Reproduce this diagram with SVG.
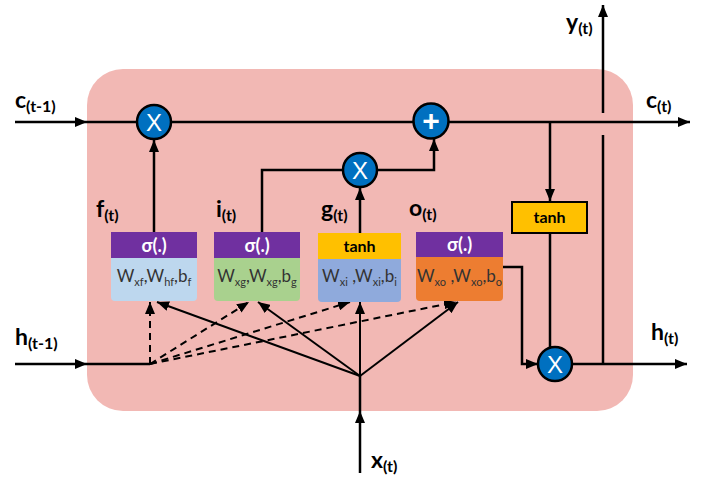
<svg xmlns="http://www.w3.org/2000/svg" width="711" height="480" viewBox="0 0 711 480">
<defs>
<marker id="ah" viewBox="0 0 12 10" refX="12" refY="5" markerWidth="12" markerHeight="10" markerUnits="userSpaceOnUse" orient="auto"><path d="M0,0 L12,5 L0,10 Z" fill="#000"/></marker>
<style>
.ln{stroke:#000;stroke-width:2.5;fill:none}
.dl{stroke:#000;stroke-width:2;fill:none;stroke-dasharray:7,5}
.sl{stroke:#000;stroke-width:2;fill:none}
.lbl{font-family:Lato,"Open Sans",sans-serif;font-weight:bold;font-size:23px;fill:#000}
.sub{font-size:16px}
.op{fill:#0070C0;stroke:#000;stroke-width:2.5}
.opt{font-family:"Liberation Sans",Arial,sans-serif;font-size:24px;fill:#fff;text-anchor:middle}
.hd{font-family:Lato,"Open Sans",sans-serif;font-weight:bold;font-size:18px;text-anchor:middle}
.bd{font-family:Lato,"Open Sans",sans-serif;font-size:17px;fill:#333;text-anchor:middle}
.bs{font-size:11px}
</style>
</defs>
<rect x="87" y="69" width="546" height="342" rx="36" ry="36" fill="#F2B8B4"/>
<g id="connectors">
<path class="ln" d="M15,122 H87" marker-end="url(#ah)"/>
<path class="ln" d="M87,122 H137"/>
<path class="ln" d="M171,122 H414"/>
<path class="ln" d="M448,122 H690" marker-end="url(#ah)"/>
<path class="ln" d="M603,113 V5" marker-end="url(#ah)"/>
<path class="ln" d="M603,135 V364"/>
<path class="ln" d="M550,122 V201" marker-end="url(#ah)"/>
<path class="ln" d="M550,233 V348"/>
<path class="ln" d="M503,267 H522 V364 H538" marker-end="url(#ah)"/>
<path class="ln" d="M572,364 H687" marker-end="url(#ah)"/>
<path class="ln" d="M154,232 V140" marker-end="url(#ah)"/>
<path class="ln" d="M262,232 V170 H343"/>
<path class="ln" d="M377,170 H434 V139" marker-end="url(#ah)"/>
<path class="ln" d="M360,233 V188" marker-end="url(#ah)"/>
<path class="ln" d="M15,364 H87" marker-end="url(#ah)"/>
<path class="ln" d="M87,364 H150"/>
<path class="dl" d="M150,364 V302" marker-end="url(#ah)"/>
<path class="dl" d="M150,364 L249,302" marker-end="url(#ah)"/>
<path class="dl" d="M150,364 L350,302" marker-end="url(#ah)"/>
<path class="dl" d="M150,364 L456,302" marker-end="url(#ah)"/>
<path class="ln" d="M360,473 V411" marker-end="url(#ah)"/>
<path class="ln" d="M360,411 V376"/>
<path class="sl" d="M360,376 L157,302" marker-end="url(#ah)"/>
<path class="sl" d="M360,376 L258,302" marker-end="url(#ah)"/>
<path class="sl" d="M360,376 V302" marker-end="url(#ah)"/>
<path class="sl" d="M360,376 L458,302" marker-end="url(#ah)"/>
</g>
<g id="mul_f"><circle class="op" cx="154" cy="122" r="17"/><text class="opt" x="154" y="131">X</text></g>
<g id="add_c"><circle class="op" cx="431" cy="121" r="17.5"/><text class="opt" x="431" y="131" style="font-weight:bold;font-size:30px">+</text></g>
<g id="mul_i"><circle class="op" cx="360" cy="170" r="17"/><text class="opt" x="360" y="179">X</text></g>
<g id="mul_o"><circle class="op" cx="555" cy="364" r="17"/><text class="opt" x="555" y="373">X</text></g>
<g id="tanh_c"><rect x="512" y="202" width="75" height="31" fill="#FFC000" stroke="#000" stroke-width="2"/><text class="hd" x="549.5" y="223" style="font-size:16px">tanh</text></g>
<g id="gate_f">
<path d="M111,258 H197 V297 Q197,301 193,301 H115 Q111,301 111,297 Z" fill="#BDD7EE"/>
<rect x="111" y="232" width="86" height="26" fill="#7030A0"/>
<text class="hd" x="154" y="252" fill="#fff">σ(.)</text>
<text class="bd" x="154" y="282">W<tspan class="bs" dy="4">xf</tspan><tspan dy="-4">,W</tspan><tspan class="bs" dy="4">hf</tspan><tspan dy="-4">,b</tspan><tspan class="bs" dy="4">f</tspan></text>
</g>
<g id="gate_i">
<path d="M214,258 H300 V297 Q300,301 296,301 H218 Q214,301 214,297 Z" fill="#A9D18E"/>
<rect x="214" y="232" width="86" height="26" fill="#7030A0"/>
<text class="hd" x="257" y="252" fill="#fff">σ(.)</text>
<text class="bd" x="257" y="282">W<tspan class="bs" dy="4">xg</tspan><tspan dy="-4">,W</tspan><tspan class="bs" dy="4">xg</tspan><tspan dy="-4">,b</tspan><tspan class="bs" dy="4">g</tspan></text>
</g>
<g id="gate_g">
<path d="M318,259 H401 V298 Q401,302 397,302 H322 Q318,302 318,298 Z" fill="#8FAADC"/>
<rect x="318" y="233" width="83" height="26" fill="#FFC000"/>
<text class="hd" x="359.5" y="252" fill="#000" style="font-size:16px">tanh</text>
<text class="bd" x="359.5" y="282">W<tspan class="bs" dy="4">xi</tspan><tspan dy="-4"> ,W</tspan><tspan class="bs" dy="4">xi</tspan><tspan dy="-4">,b</tspan><tspan class="bs" dy="4">i</tspan></text>
</g>
<g id="gate_o">
<path d="M416,257 H503 V297 Q503,301 499,301 H420 Q416,301 416,297 Z" fill="#ED7D31"/>
<rect x="416" y="232" width="87" height="25" fill="#7030A0"/>
<text class="hd" x="459.5" y="251" fill="#fff">σ(.)</text>
<text class="bd" x="459.5" y="282">W<tspan class="bs" dy="4">xo</tspan><tspan dy="-4"> ,W</tspan><tspan class="bs" dy="4">xo</tspan><tspan dy="-4">,b</tspan><tspan class="bs" dy="4">o</tspan></text>
</g>
<g id="labels">
<text class="lbl" x="15" y="108">c<tspan class="sub" dy="4">(t-1)</tspan></text>
<text class="lbl" x="15" y="345">h<tspan class="sub" dy="4">(t-1)</tspan></text>
<text class="lbl" x="96" y="217">f<tspan class="sub" dy="4">(t)</tspan></text>
<text class="lbl" x="216" y="217">i<tspan class="sub" dy="4">(t)</tspan></text>
<text class="lbl" x="321" y="217">g<tspan class="sub" dy="4">(t)</tspan></text>
<text class="lbl" x="409" y="216">o<tspan class="sub" dy="4">(t)</tspan></text>
<text class="lbl" x="566" y="30">y<tspan class="sub" dy="4">(t)</tspan></text>
<text class="lbl" x="646" y="108">c<tspan class="sub" dy="4">(t)</tspan></text>
<text class="lbl" x="651" y="340">h<tspan class="sub" dy="4">(t)</tspan></text>
<text class="lbl" x="371" y="468">x<tspan class="sub" dy="4">(t)</tspan></text>
</g>
</svg>
